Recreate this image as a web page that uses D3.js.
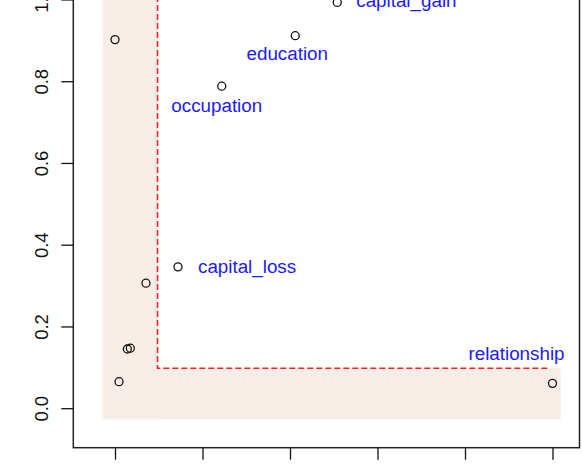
<!DOCTYPE html>
<html>
<head>
<meta charset="utf-8">
<script src="https://cdn.jsdelivr.net/npm/d3@7"></script>
<style>
  body { margin: 0; background: #fff; }
  svg { display: block; font-family: "Liberation Sans", Arial, sans-serif; }
</style>
</head>
<body>
<svg width="582" height="471"></svg>
<script>
// point values
const xValues = [0.0, 1.22, 2.06, 2.54, 0.72, 0.354, 0.141, 0.175, 0.046, 5.0];
const yValues = [0.903, 0.789, 0.9125, 0.994, 0.347, 0.307, 0.146, 0.148, 0.066, 0.062];
const pointLabels = ['', 'occupation', 'education', 'capital_gain', 'capital_loss', '', '', '', '', 'relationship'];

// thresholds and shaded band
const xCut = 0.486;
const yCut = 0.099;
const bandX = [-0.141, 5.094];
const bandY = [-0.026, 0.099];
const lineEndX = 4.963;

const xTicks = [0, 1, 2, 3, 4, 5];
const yTicks = [0, 0.2, 0.4, 0.6, 0.8, 1.0];

const svg = d3.select('svg');

// plot box (the top is cut off in the picture)
const box = { left: 73.3, right: 579.5, top: -40, bottom: 447.7 };

const x = d3.scaleLinear().domain([0, 5]).range([115, 552.5]);
const y = d3.scaleLinear().domain([0, 0.8]).range([408.7, 81.7]);

// shaded L-shaped band
svg.append('rect')
  .attr('x', x(bandX[0]))
  .attr('y', box.top)
  .attr('width', x(xCut) - x(bandX[0]))
  .attr('height', y(bandY[0]) - box.top)
  .attr('fill', '#f9ede8');
svg.append('rect')
  .attr('x', x(bandX[0]))
  .attr('y', y(bandY[1]))
  .attr('width', x(bandX[1]) - x(bandX[0]))
  .attr('height', y(bandY[0]) - y(bandY[1]))
  .attr('fill', '#f9ede8');

// dashed threshold lines
svg.append('path')
  .attr('d', `M${x(xCut)},${box.top} L${x(xCut)},${y(yCut)} L${x(lineEndX)},${y(yCut)}`)
  .attr('fill', 'none')
  .attr('stroke', '#ff2020')
  .attr('stroke-width', 1.6)
  .attr('stroke-dasharray', '6,3');

// points
const pts = xValues.map((v, i) => ({ x: v, y: yValues[i], label: pointLabels[i] }));
svg.selectAll('circle')
  .data(pts)
  .enter().append('circle')
  .attr('cx', d => x(d.x))
  .attr('cy', d => y(d.y))
  .attr('r', 4)
  .attr('fill', 'none')
  .attr('stroke', '#111')
  .attr('stroke-width', 1.3);

// label placement around each point
const labelPos = {
  occupation:   { dx: -5,  dy: 26, anchor: 'middle' },
  education:    { dx: -8,  dy: 24, anchor: 'middle' },
  capital_gain: { dx: 19,  dy: 5,  anchor: 'start' },
  capital_loss: { dx: 20,  dy: 6,  anchor: 'start' },
  relationship: { dx: -36, dy: -23, anchor: 'middle' }
};
svg.selectAll('text.lab')
  .data(pts.filter(d => d.label))
  .enter().append('text')
  .attr('class', 'lab')
  .attr('x', d => x(d.x) + labelPos[d.label].dx)
  .attr('y', d => y(d.y) + labelPos[d.label].dy)
  .attr('text-anchor', d => labelPos[d.label].anchor)
  .attr('fill', '#1a1aff')
  .attr('font-size', 18.8)
  .text(d => d.label);

// box
svg.append('rect')
  .attr('x', box.left)
  .attr('y', box.top)
  .attr('width', box.right - box.left)
  .attr('height', box.bottom - box.top)
  .attr('fill', 'none')
  .attr('stroke', '#222')
  .attr('stroke-width', 1.5);

// y axis
const yAxis = d3.axisLeft(y).tickValues(yTicks).tickFormat(d3.format('.1f')).tickSize(12).tickPadding(0);
const gy = svg.append('g').attr('transform', `translate(${box.left},0)`).call(yAxis);
gy.select('.domain').remove();
gy.selectAll('line').attr('stroke', '#111').attr('stroke-width', 1.3);
gy.selectAll('text')
  .attr('font-size', 18.5)
  .attr('fill', '#111')
  .attr('text-anchor', 'middle')
  .attr('dy', 0)
  .attr('x', 0)
  .attr('transform', d => `translate(-31,${y(d)}) rotate(-90) translate(0,6)`)
  .attr('y', 0);
gy.selectAll('.tick').attr('transform', null);
gy.selectAll('.tick line').attr('transform', d => `translate(0,${y(d)})`);

// x axis: only the tick marks show, the labels are below the crop
const xAxis = d3.axisBottom(x).tickValues(xTicks).tickSize(12).tickFormat('');
const gx = svg.append('g').attr('transform', `translate(0,${box.bottom})`).call(xAxis);
gx.select('.domain').remove();
gx.selectAll('line').attr('stroke', '#111').attr('stroke-width', 1.3);
</script>
</body>
</html>
